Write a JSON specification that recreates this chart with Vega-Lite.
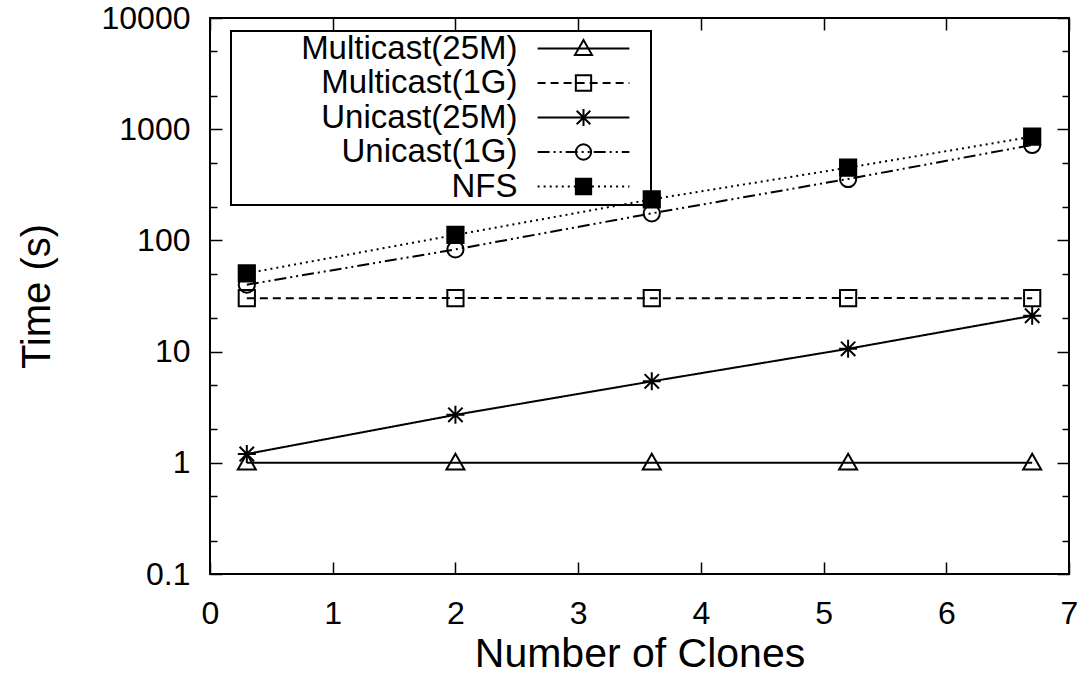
{
  "$schema": "https://vega.github.io/schema/vega-lite/v6.json",
  "width": 859,
  "height": 556,
  "autosize": {"type": "none"},
  "padding": {"left": 210, "top": 18, "right": 17, "bottom": 105},
  "background": "white",
  "config": {
    "view": {"stroke": "black", "strokeWidth": 2},
    "font": "Liberation Sans",
    "legend": {"strokeWidth": 2}
  },
  "data": {
    "values": [
      {"series": "Multicast(25M)", "clones": 0.3, "time": 1.0},
      {"series": "Multicast(25M)", "clones": 2.0, "time": 1.0},
      {"series": "Multicast(25M)", "clones": 3.6, "time": 1.0},
      {"series": "Multicast(25M)", "clones": 5.2, "time": 1.0},
      {"series": "Multicast(25M)", "clones": 6.7, "time": 1.0},
      {"series": "Multicast(1G)", "clones": 0.3, "time": 30.2},
      {"series": "Multicast(1G)", "clones": 2.0, "time": 30.3},
      {"series": "Multicast(1G)", "clones": 3.6, "time": 30.2},
      {"series": "Multicast(1G)", "clones": 5.2, "time": 30.3},
      {"series": "Multicast(1G)", "clones": 6.7, "time": 30.2},
      {"series": "Unicast(25M)", "clones": 0.3, "time": 1.2},
      {"series": "Unicast(25M)", "clones": 2.0, "time": 2.7},
      {"series": "Unicast(25M)", "clones": 3.6, "time": 5.4},
      {"series": "Unicast(25M)", "clones": 5.2, "time": 10.6},
      {"series": "Unicast(25M)", "clones": 6.7, "time": 21},
      {"series": "Unicast(1G)", "clones": 0.3, "time": 40},
      {"series": "Unicast(1G)", "clones": 2.0, "time": 83},
      {"series": "Unicast(1G)", "clones": 3.6, "time": 175},
      {"series": "Unicast(1G)", "clones": 5.2, "time": 357},
      {"series": "Unicast(1G)", "clones": 6.7, "time": 721},
      {"series": "NFS", "clones": 0.3, "time": 50.6},
      {"series": "NFS", "clones": 2.0, "time": 112},
      {"series": "NFS", "clones": 3.6, "time": 234},
      {"series": "NFS", "clones": 5.2, "time": 451},
      {"series": "NFS", "clones": 6.7, "time": 857}
    ]
  },
  "resolve": {"scale": {"shape": "independent"}, "axis": {"x": "independent", "y": "independent"}},
  "layer": [
    {
      "mark": {"type": "line", "color": "black", "strokeWidth": 2},
      "encoding": {
        "x": {
          "field": "clones", "type": "quantitative",
          "scale": {"domain": [0, 7], "nice": false, "zero": false},
          "axis": {
            "orient": "bottom", "values": [0, 1, 2, 3, 4, 5, 6, 7], "format": "d",
            "domain": false, "grid": false, "tickSize": -12, "tickWidth": 1.5, "tickColor": "black",
            "labelFont": "Liberation Sans", "labelFontSize": 32, "labelColor": "black",
            "labelPadding": 36, "labelFlush": false, "labelOverlap": false,
            "title": "Number of Clones", "titleFont": "Liberation Sans", "titleFontSize": 41,
            "titleFontWeight": "normal", "titleColor": "black", "titlePadding": 5
          }
        },
        "y": {
          "field": "time", "type": "quantitative",
          "scale": {"type": "log", "domain": [0.1, 10000], "nice": false},
          "axis": {
            "orient": "left",
            "values": [0.1, 1, 10, 100, 1000, 10000],
            "format": "~g",
            "domain": false, "grid": false,
            "tickSize": -12, "tickWidth": 1.5, "tickColor": "black",
            "labelFont": "Liberation Sans", "labelFontSize": 32, "labelColor": "black",
            "labelPadding": 32, "labelFlush": false, "labelOverlap": false,
            "title": "Time (s)", "titleFont": "Liberation Sans", "titleFontSize": 40,
            "titleFontWeight": "normal", "titleColor": "black", "titlePadding": 44
          }
        },
        "strokeDash": {
          "field": "series", "type": "nominal",
          "scale": {
            "domain": ["Multicast(25M)", "Multicast(1G)", "Unicast(25M)", "Unicast(1G)", "NFS"],
            "range": [[1, 0], [8, 5], [1, 0], [12, 4, 2, 4, 2, 4], [2, 4]]
          },
          "legend": null
        }
      }
    },
    {
      "mark": {"type": "point", "filled": true, "stroke": "black", "strokeWidth": 2, "size": 324, "opacity": 1},
      "encoding": {
        "x": {
          "field": "clones", "type": "quantitative",
          "axis": {
            "orient": "top", "values": [0, 1, 2, 3, 4, 5, 6, 7], "labels": false, "title": null,
            "domain": false, "grid": false, "tickSize": -12, "tickWidth": 1.5, "tickColor": "black"
          }
        },
        "y": {
          "field": "time", "type": "quantitative",
          "axis": {
            "orient": "right", "labels": false, "title": null,
            "values": [0.1, 1, 10, 100, 1000, 10000],
            "domain": false, "grid": false,
            "tickSize": -12, "tickWidth": 1.5, "tickColor": "black"
          }
        },
        "shape": {
          "field": "series", "type": "nominal",
          "scale": {
            "domain": ["Multicast(25M)", "Multicast(1G)", "Unicast(25M)", "Unicast(1G)", "NFS"],
            "range": [
              "M0,-1L1,0.75L-1,0.75Z",
              "M-0.9,-0.9H0.9V0.9H-0.9Z",
              "M-1,0H1M0,-1V1M-0.8,-0.8L0.8,0.8M-0.8,0.8L0.8,-0.8",
              "M0.9,0A0.9,0.9,0,1,1,-0.9,0A0.9,0.9,0,1,1,0.9,0Z",
              "M-0.9,-0.9H0.9V0.9H-0.9Z"
            ]
          },
          "legend": null
        },
        "fill": {
          "field": "series", "type": "nominal",
          "scale": {
            "domain": ["Multicast(25M)", "Multicast(1G)", "Unicast(25M)", "Unicast(1G)", "NFS"],
            "range": ["transparent", "transparent", "transparent", "transparent", "black"]
          },
          "legend": null
        }
      }
    },
    {
      "transform": [{"filter": "datum.clones < 0"}],
      "mark": {"type": "point", "filled": false, "color": "black", "strokeWidth": 2, "size": 289, "opacity": 1},
      "encoding": {
        "x": {"field": "clones", "type": "quantitative", "axis": null},
        "y": {"field": "time", "type": "quantitative", "axis": null},
        "shape": {
          "field": "series", "type": "nominal",
          "scale": {
            "domain": ["Multicast(25M)", "Multicast(1G)", "Unicast(25M)", "Unicast(1G)", "NFS"],
            "range": [
              "M7.3,0h0M-5.4,0H5.4M0,-1L1,0.75L-1,0.75Z",
              "M7.3,0h0M-5.4,0H-4.46M-3.87,0H-2.93M-2.34,0H-1.4M-0.81,0H0.13M0.72,0H1.66M2.25,0H3.19M3.78,0H4.72M5.31,0H5.4M-0.9,-0.9H0.9V0.9H-0.9Z",
              "M7.3,0h0M-5.4,0H5.4M0,-1V1M-0.8,-0.8L0.8,0.8M-0.8,0.8L0.8,-0.8",
              "M7.3,0h0M-5.4,0H-3.99M-3.52,0H-3.28M-2.81,0H-2.57M-2.1,0H-0.69M-0.22,0H0.02M0.49,0H0.73M1.2,0H2.61M3.08,0H3.32M3.79,0H4.03M4.5,0H5.4M0.9,0A0.9,0.9,0,1,1,-0.9,0A0.9,0.9,0,1,1,0.9,0Z",
              "M7.3,0h0M-5.4,0h0.24M-4.69,0h0.24M-3.98,0h0.24M-3.27,0h0.24M-2.56,0h0.24M-1.85,0h0.24M-1.14,0h0.24M-0.43,0h0.24M0.28,0h0.24M0.99,0h0.24M1.7,0h0.24M2.41,0h0.24M3.12,0h0.24M3.83,0h0.24M4.54,0h0.24M5.25,0h0.15M-0.9,-0.9H0.9V0.9H-0.9ZM-0.9,-0.7H0.9M-0.9,-0.5H0.9M-0.9,-0.3H0.9M-0.9,-0.1H0.9M-0.9,0.1H0.9M-0.9,0.3H0.9M-0.9,0.5H0.9M-0.9,0.7H0.9"
            ]
          },
          "legend": {
            "orient": "none", "legendX": 21, "legendY": 13, "title": null,
            "labelFont": "Liberation Sans", "labelFontSize": 33, "labelColor": "black",
            "labelAlign": "right", "labelOffset": -82.5, "labelLimit": 500,
            "symbolOffset": 335,
            "symbolSize": 289, "symbolStrokeWidth": 2, "symbolStrokeColor": "black", "symbolFillColor": "transparent",
            "symbolOpacity": 1,
            "rowPadding": 0.5, "padding": 1, "strokeColor": "black"
          }
        }
      }
    },
    {
      "transform": [{"filter": "datum.clones < 0"}],
      "mark": {"type": "point"},
      "encoding": {
        "x": {"field": "clones", "type": "quantitative", "axis": null},
        "y": {
          "field": "time", "type": "quantitative",
          "axis": {
            "orient": "left", "labels": false, "title": null,
            "values": [0.2, 0.5, 2, 5, 20, 50, 200, 500, 2000, 5000],
            "domain": false, "grid": false, "tickSize": -7, "tickWidth": 1.5, "tickColor": "black"
          }
        }
      }
    },
    {
      "transform": [{"filter": "datum.clones < 0"}],
      "mark": {"type": "point"},
      "encoding": {
        "x": {"field": "clones", "type": "quantitative", "axis": null},
        "y": {
          "field": "time", "type": "quantitative",
          "axis": {
            "orient": "right", "labels": false, "title": null,
            "values": [0.2, 0.5, 2, 5, 20, 50, 200, 500, 2000, 5000],
            "domain": false, "grid": false, "tickSize": -7, "tickWidth": 1.5, "tickColor": "black"
          }
        }
      }
    }
  ]
}
